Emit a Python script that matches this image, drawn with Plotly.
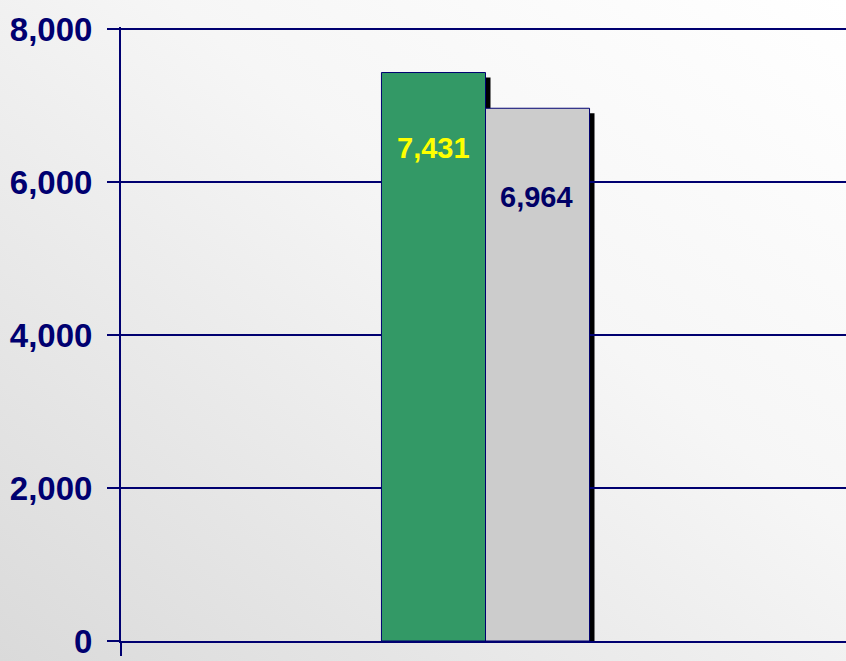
import base64
import plotly.graph_objects as go

category = ["Total"]
series_names = ["Series A", "Series B"]
series_values = [7431, 6964]
bar_colors = ["#339966", "#CCCCCC"]
label_colors = ["#FFFF00", "#000066"]
tick_values = [0, 2000, 4000, 6000, 8000]
tick_labels = ["0", "2,000", "4,000", "6,000", "8,000"]

NAVY = "#000070"
FONT = "Liberation Sans, Arial, sans-serif"

W, H = 846, 661
ML, MR, MT, MB = 121, 0, 27, 20
plot_h = H - MT - MB
px2y = 8000 / (641 - 29)
y_top = 8000 + 2 * px2y

fig = go.Figure()
for name, val, col in zip(series_names, series_values, bar_colors):
    fig.add_trace(go.Bar(
        x=category, y=[val], name=name,
        marker=dict(color=col, line=dict(color=NAVY, width=1)),
        hoverinfo="skip",
    ))

# background gradient
svg = (f'<svg xmlns="http://www.w3.org/2000/svg" width="{W}" height="{H}">'
       '<defs><linearGradient id="g" x1="0" y1="1" x2="1" y2="0">'
       '<stop offset="0" stop-color="#DADADA"/>'
       '<stop offset="0.6" stop-color="#F6F6F6"/>'
       '<stop offset="1" stop-color="#FFFFFF"/>'
       '</linearGradient></defs>'
       f'<rect width="{W}" height="{H}" fill="url(#g)"/></svg>')
uri = "data:image/svg+xml;base64," + base64.b64encode(svg.encode()).decode()
pw = W - ML - MR
fig.add_layout_image(dict(
    source=uri, xref="paper", yref="paper",
    x=-ML / pw, y=1 + MT / plot_h,
    sizex=W / pw, sizey=H / plot_h,
    xanchor="left", yanchor="top", sizing="stretch", layer="below",
))

bar_px = 104
shapes = []
offsets = [(-bar_px + 5, 5), (5, bar_px + 5)]
for val, (a, b) in zip(series_values, offsets):
    shapes.append(dict(
        type="rect", xref="x", yref="y", xsizemode="pixel", xanchor=0,
        x0=a, x1=b, y0=0, y1=val - 5 * px2y,
        fillcolor="black", line=dict(width=0), layer="below",
    ))
# small tick below the x axis at the left edge
shapes.append(dict(type="line", xref="paper", yref="paper", ysizemode="pixel",
                   yanchor=0, x0=0, x1=0, y0=0, y1=-15,
                   line=dict(color=NAVY, width=2)))
fig.update_layout(shapes=shapes)

label_shift = [(-52, 75), (51, 89)]
for val, col, (xs, ys) in zip(series_values, label_colors, label_shift):
    fig.add_annotation(
        x=category[0], y=val, xref="x", yref="y",
        text=f"{val:,}", showarrow=False,
        xshift=xs, yshift=-ys, yanchor="middle",
        font=dict(family=FONT, size=29, color=col, weight="bold"),
    )

x_shift = 2 / pw
fig.update_layout(
    width=W, height=H,
    margin=dict(l=ML, r=MR, t=MT, b=MB, autoexpand=False),
    paper_bgcolor="white", plot_bgcolor="rgba(0,0,0,0)",
    barmode="group", bargap=0.713, bargroupgap=0,
    showlegend=False,
    xaxis=dict(showticklabels=False, ticks="", showgrid=False, automargin=False,
               range=[-0.5 - x_shift, 0.5 - x_shift],
               showline=True, linecolor=NAVY, linewidth=2, zeroline=False,
               fixedrange=True),
    yaxis=dict(range=[0, y_top], tickvals=tick_values, ticktext=tick_labels,
               showgrid=True, gridcolor=NAVY, gridwidth=2, automargin=False,
               showline=True, linecolor=NAVY, linewidth=2,
               ticks="outside", ticklen=12, tickwidth=2, tickcolor=NAVY,
               ticklabelstandoff=8, zeroline=False,
               tickfont=dict(family=FONT, size=33, color=NAVY, weight="bold")),
)

fig.write_html("out.html", config={"displayModeBar": False, "staticPlot": True},
               post_script="document.body.style.margin='0';document.body.style.overflow='hidden';")
